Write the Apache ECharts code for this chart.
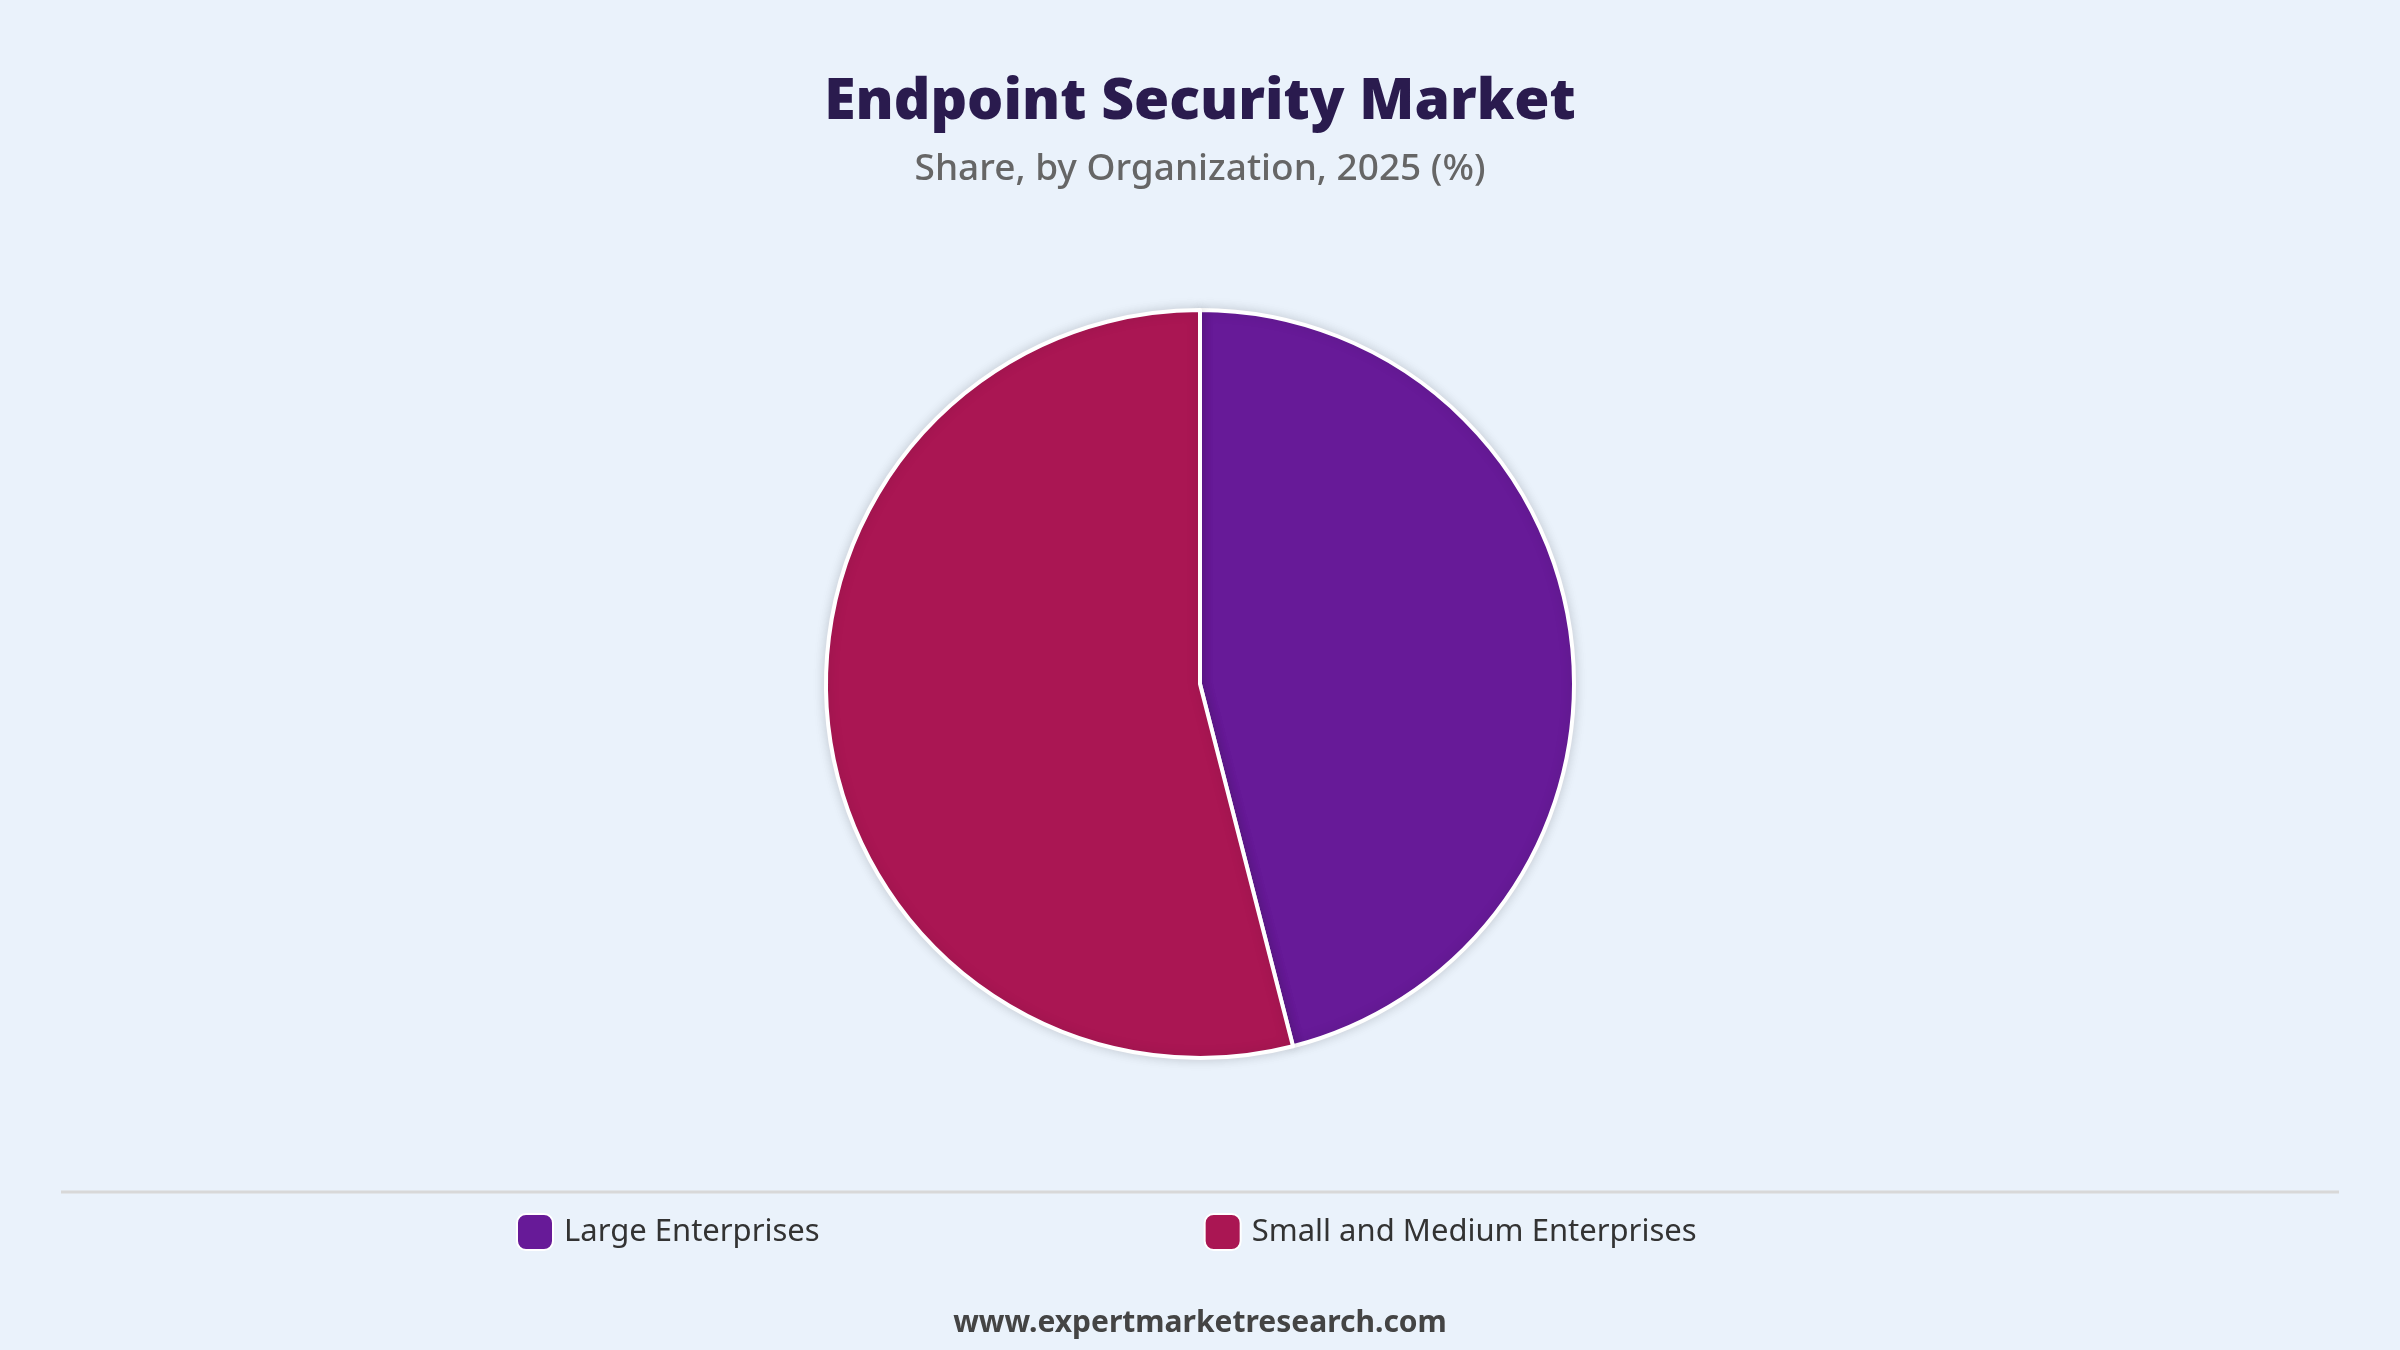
<!DOCTYPE html>
<html><head><meta charset="utf-8">
<script src="https://cdn.jsdelivr.net/npm/echarts@6/dist/echarts.min.js"></script>
<style>html,body{margin:0;padding:0;background:#EAF2FB}#c{width:2400px;height:1350px}</style>
</head><body><div id="c"></div>
<script>
const categories = ["Large Enterprises", "Small and Medium Enterprises"];
const values = [46, 54];
const colors = ["#671A98", "#AA1653"];
const chart = echarts.init(document.getElementById('c'));
chart.setOption({
  backgroundColor: '#EAF2FB',
  animation: false,
  title: {
    text: 'Endpoint Security Market',
    subtext: 'Share, by Organization, 2025 (%)',
    left: 'center', top: 69, itemGap: 20,
    textStyle: {fontFamily: 'Open Sans', fontWeight: 800, fontSize: 57, color: '#2A1B4E'},
    subtextStyle: {fontFamily: 'Noto Sans', fontWeight: 500, fontSize: 37, color: '#666'}
  },
  legend: {
    data: categories, bottom: 94, left: 511, itemGap: 384,
    itemWidth: 36, itemHeight: 36, icon: 'roundRect',
    textStyle: {fontFamily: 'Noto Sans', fontSize: 31, color: '#333', padding: [0,0,0,6]}
  },
  graphic: [
    {type: 'line', shape: {x1: 61, y1: 1192, x2: 2339, y2: 1192}, style: {stroke: '#d8d8d8', lineWidth: 3}},
    {type: 'text', left: 'center', top: 1308, style: {text: 'www.expertmarketresearch.com', fontFamily: 'Noto Sans', fontWeight: 'bold', fontSize: 30, fill: '#444'}}
  ],
  series: [{
    type: 'pie', center: [1200, 684], radius: 374, label: {show: false},
    itemStyle: {borderColor: '#fff', borderWidth: 4, shadowBlur: 12, shadowColor: 'rgba(0,0,0,0.15)'},
    data: categories.map((n, i) => ({name: n, value: values[i], itemStyle: {color: colors[i]}}))
  }]
});
</script></body></html>
